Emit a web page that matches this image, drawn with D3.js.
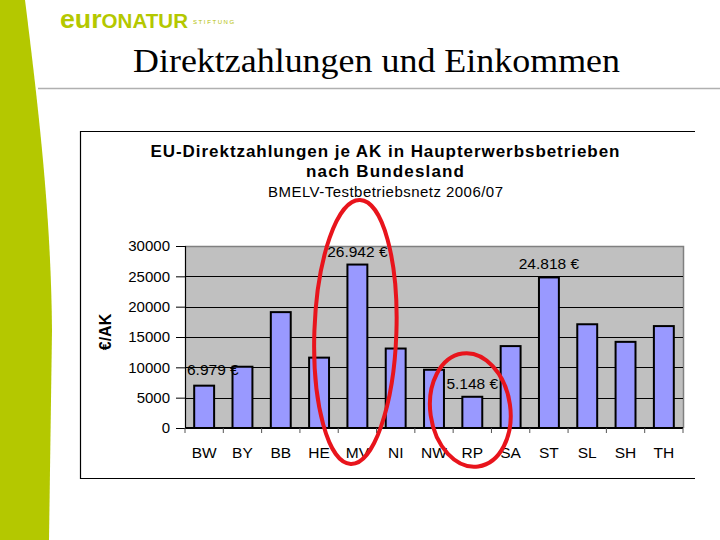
<!DOCTYPE html>
<html><head><meta charset="utf-8">
<script src="https://cdn.jsdelivr.net/npm/d3@7"></script>
<style>html,body{margin:0;padding:0;background:#fff;}svg{display:block;}</style>
</head><body>
<script>
const categories = ["BW","BY","BB","HE","MV","NI","NW","RP","SA","ST","SL","SH","TH"];
const values = [6979,10100,19100,11600,26942,13100,9600,5148,13500,24818,17100,14200,16800];
const yTicks = [0,5000,10000,15000,20000,25000,30000];
const labeled = ["BW","MV","RP","ST"];
const labelTexts = ["6.979 €","26.942 €","5.148 €","24.818 €"];
const circled = ["MV","RP"];
const slideTitle = "Direktzahlungen und Einkommen";
const chartTitle = ["EU-Direktzahlungen je AK in Haupterwerbsbetrieben","nach Bundesland"];
const chartSubtitle = "BMELV-Testbetriebsnetz 2006/07";
const yAxisTitle = "€/AK";

(function(){
const W = 720, H = 540;
const svg = d3.select("body").append("svg").attr("width", W).attr("height", H);

// slide decoration
svg.append("path")
  .attr("d", "M0,0 L25,0 C40,120 51,220 52,330 L49,540 L0,540 Z")
  .attr("fill", "#b4c800");
const logo = svg.append("text").attr("x", 60).attr("y", 28)
  .attr("font-family", "Arial, 'Liberation Sans', sans-serif").attr("font-weight", "bold")
  .attr("fill", "#b4c800").attr("font-size", 20);
logo.append("tspan").attr("font-size", 26).text("eur");
logo.append("tspan").text("ONATUR");
logo.attr("textLength", 128).attr("lengthAdjust", "spacingAndGlyphs");
svg.append("text").attr("x", 193).attr("y", 24)
  .attr("font-family", "Arial, sans-serif").attr("font-size", 6)
  .attr("letter-spacing", 1.6).attr("fill", "#b4c000").text("STIFTUNG");
svg.append("text").attr("x", 133).attr("y", 72)
  .attr("font-family", "'Times New Roman', 'Liberation Serif', serif").attr("font-size", 34)
  .attr("textLength", 487).attr("lengthAdjust", "spacingAndGlyphs")
  .attr("fill", "#000").text(slideTitle);
svg.append("line").attr("x1", 38).attr("x2", 720).attr("y1", 88.5).attr("y2", 88.5)
  .attr("stroke", "#b0b0b0").attr("stroke-width", 1.5);

// chart frame (right edge cut off)
svg.append("path").attr("d", "M695,131.5 L80.5,131.5 L80.5,478.5 L695,478.5")
  .attr("fill", "none").attr("stroke", "#000").attr("stroke-width", 1.2);

const font = "Arial, 'Liberation Sans', sans-serif";
const titleWidths = [469, 158];
chartTitle.forEach((t, i) => {
  svg.append("text").attr("x", 385 - titleWidths[i] / 2).attr("y", 157 + i * 20)
    .attr("textLength", titleWidths[i]).attr("lengthAdjust", "spacing")
    .attr("font-family", font).attr("font-weight", "bold").attr("font-size", 17).text(t);
});
svg.append("text").attr("x", 268).attr("y", 197)
  .attr("textLength", 235).attr("lengthAdjust", "spacing")
  .attr("font-family", font).attr("font-size", 15).text(chartSubtitle);

// plot
const pLeft = 185, pRight = 683, pTop = 246, pBottom = 428;
const x = d3.scaleBand().domain(categories).range([pLeft, pRight]).paddingInner(0.48).paddingOuter(0.24);
const y = d3.scaleLinear().domain([0, 30000]).range([pBottom, pTop]);

svg.append("rect").attr("x", pLeft).attr("y", pTop).attr("width", pRight - pLeft).attr("height", pBottom - pTop)
  .attr("fill", "#c0c0c0");
svg.append("path").attr("d", `M${pLeft},${pTop + 0.5} L${pRight + 0.5},${pTop + 0.5} L${pRight + 0.5},${pBottom}`)
  .attr("fill", "none").attr("stroke", "#808080").attr("stroke-width", 1.5);

// gridlines
svg.append("g").selectAll("line").data(yTicks.filter(d => d > 0 && d < 30000)).join("line")
  .attr("x1", pLeft).attr("x2", pRight).attr("y1", d => Math.round(y(d)) + 0.5).attr("y2", d => Math.round(y(d)) + 0.5)
  .attr("stroke", "#000").attr("stroke-width", 1);

// y axis
const yAxis = d3.axisLeft(y).tickValues(yTicks).tickSize(9).tickPadding(6).tickFormat(d3.format("d"));
const gy = svg.append("g").attr("transform", `translate(${pLeft},0)`).call(yAxis);
gy.select(".domain").attr("stroke", "#000").attr("stroke-width", 1.2);
gy.selectAll(".tick line").attr("stroke", "#000");
gy.selectAll(".tick text").attr("font-family", font).attr("font-size", 15).attr("fill", "#000");

// bars
svg.append("g").selectAll("rect").data(categories).join("rect")
  .attr("x", d => x(d)).attr("width", x.bandwidth())
  .attr("y", (d, i) => y(values[i])).attr("height", (d, i) => pBottom - y(values[i]))
  .attr("fill", "#9999ff").attr("stroke", "#000").attr("stroke-width", 2);

// x axis
svg.append("line").attr("x1", pLeft).attr("x2", pRight).attr("y1", pBottom).attr("y2", pBottom)
  .attr("stroke", "#000").attr("stroke-width", 2);
svg.append("g").selectAll("line").data(d3.range(categories.length + 1)).join("line")
  .attr("x1", k => pLeft + k * x.step()).attr("x2", k => pLeft + k * x.step())
  .attr("y1", pBottom).attr("y2", pBottom + 5).attr("stroke", "#555").attr("stroke-width", 1);
svg.append("g").selectAll("text").data(categories).join("text")
  .attr("x", d => x(d) + x.bandwidth() / 2).attr("y", 458).attr("text-anchor", "middle")
  .attr("font-family", font).attr("font-size", 15.5).text(d => d);

// y axis title
svg.append("text").attr("transform", "translate(111,332) rotate(-90)").attr("text-anchor", "middle")
  .attr("font-family", font).attr("font-weight", "bold").attr("font-size", 16).text(yAxisTitle);

// value labels
labeled.forEach((c, i) => {
  const v = values[categories.indexOf(c)];
  const t = svg.append("text").attr("y", y(v) - 8).attr("text-anchor", "middle")
    .attr("font-family", font).attr("font-size", 15.5).text(labelTexts[i]);
  const w = t.node().getComputedTextLength();
  const cx = Math.max(x(c) + x.bandwidth() / 2, pLeft + w / 2 + 2);
  t.attr("x", cx);
  if (c === "BW") t.attr("y", y(v) - 11);
});

// red ellipses
const ell = [{c: circled[0], cy: 332, rx: 41, ry: 132, rot: 2}, {c: circled[1], cy: 410, rx: 40, ry: 57, rot: -8}];
ell.forEach(e => {
  const cx = x(e.c) + x.bandwidth() / 2 - 2;
  svg.append("ellipse").attr("cx", cx).attr("cy", e.cy).attr("rx", e.rx).attr("ry", e.ry)
    .attr("transform", `rotate(${e.rot},${cx},${e.cy})`)
    .attr("fill", "none").attr("stroke", "#e8141c").attr("stroke-width", 4);
});
})();
</script>
</body></html>
